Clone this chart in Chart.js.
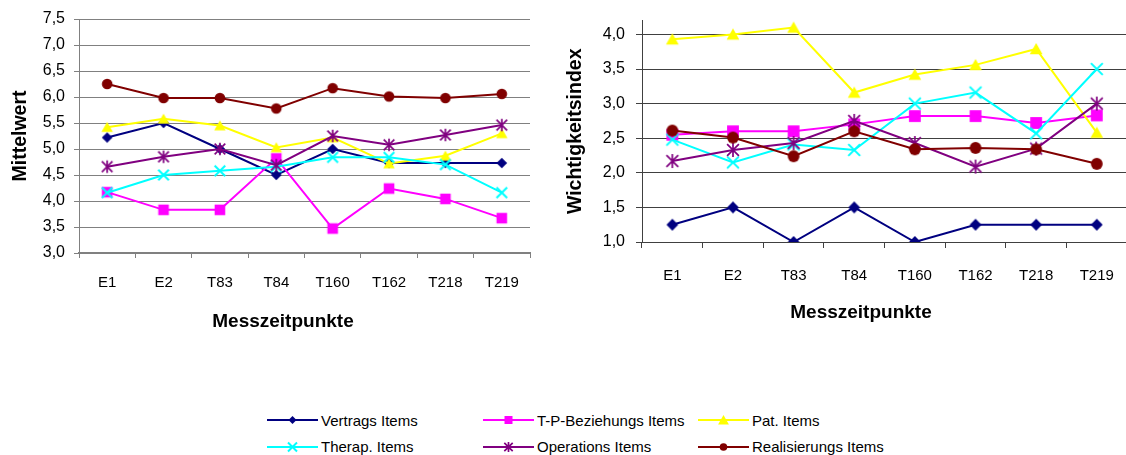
<!DOCTYPE html>
<html>
<head>
<meta charset="utf-8">
<script src="https://cdn.jsdelivr.net/npm/chart.js@4.4.1/dist/chart.umd.min.js"></script>
<style>
  html, body { margin: 0; padding: 0; background: #fff; }
  body { width: 1126px; height: 455px; overflow: hidden; position: relative;
         font-family: "Liberation Sans", Arial, sans-serif; color: #000; }
  canvas.chart { position: absolute; top: 0; }
  #cMittel { left: 0; }
  #cWicht { left: 555px; }
  .xtitle { position: absolute; width: 300px; text-align: center; font-weight: bold;
            font-size: 19px; line-height: 20px; }
  .leg { position: absolute; height: 16px; display: flex; align-items: center; }
  .leg canvas { display: block; }
  .leg span { font-size: 15px; margin-left: 3px; white-space: nowrap; }
</style>
</head>
<body>
<canvas id="cMittel" class="chart" width="540" height="345"></canvas>
<canvas id="cWicht" class="chart" width="580" height="340"></canvas>
<div class="xtitle" style="left:133px; top:311px;">Messzeitpunkte</div>
<div class="xtitle" style="left:711px; top:302px;">Messzeitpunkte</div>
<div id="legend"></div>

<script>
// Measurement points on the x axis
const categories = ['E1', 'E2', 'T83', 'T84', 'T160', 'T162', 'T218', 'T219'];

// Item groups
const seriesNames = ['Vertrags Items', 'T-P-Beziehungs Items', 'Pat. Items',
                     'Therap. Items', 'Operations Items', 'Realisierungs Items'];
const seriesColors = ['#000080', '#FF00FF', '#FFFF00', '#00FFFF', '#800080', '#800000'];
const seriesMarkers = ['diamond', 'square', 'triangle', 'cross', 'asterisk', 'circle'];

// Mean values (Mittelwert)
const vertragsMittel      = [5.22, 5.50, 5.00, 4.50, 5.00, 4.73, 4.73, 4.73];
const beziehungMittel     = [4.17, 3.83, 3.83, 4.82, 3.47, 4.24, 4.04, 3.67];
const patMittel           = [5.42, 5.58, 5.45, 5.03, 5.22, 4.72, 4.87, 5.30];
const therapMittel        = [4.16, 4.50, 4.58, 4.66, 4.84, 4.84, 4.70, 4.16];
const operationsMittel    = [4.66, 4.85, 5.00, 4.69, 5.25, 5.08, 5.27, 5.46];
const realisierungMittel  = [6.25, 5.98, 5.98, 5.78, 6.17, 6.01, 5.98, 6.06];

// Importance index (Wichtigkeitsindex)
const vertragsWicht       = [1.25, 1.50, 1.00, 1.50, 1.00, 1.25, 1.25, 1.25];
const beziehungWicht      = [2.55, 2.60, 2.60, 2.70, 2.82, 2.82, 2.72, 2.83];
const patWicht            = [3.93, 4.00, 4.10, 3.16, 3.42, 3.56, 3.79, 2.58];
const therapWicht         = [2.48, 2.15, 2.41, 2.33, 3.00, 3.16, 2.57, 3.50];
const operationsWicht     = [2.17, 2.33, 2.43, 2.75, 2.43, 2.09, 2.35, 3.00];
const realisierungWicht   = [2.61, 2.51, 2.24, 2.60, 2.34, 2.36, 2.34, 2.13];

const mittelSeries = [vertragsMittel, beziehungMittel, patMittel, therapMittel, operationsMittel, realisierungMittel];
const wichtSeries  = [vertragsWicht, beziehungWicht, patWicht, therapWicht, operationsWicht, realisierungWicht];

// Draws one marker shape centred on (x, y)
function drawMarker(ctx, kind, x, y, r, color) {
  ctx.save();
  ctx.fillStyle = color;
  ctx.strokeStyle = color;
  ctx.lineCap = 'butt';
  ctx.beginPath();
  switch (kind) {
    case 'diamond':
      ctx.moveTo(x, y - r); ctx.lineTo(x + r, y); ctx.lineTo(x, y + r); ctx.lineTo(x - r, y);
      ctx.closePath(); ctx.fill(); break;
    case 'square':
      ctx.rect(x - r, y - r, 2 * r, 2 * r); ctx.fill(); break;
    case 'triangle':
      ctx.moveTo(x, y - r); ctx.lineTo(x + r * 1.08, y + r * 0.9); ctx.lineTo(x - r * 1.08, y + r * 0.9);
      ctx.closePath(); ctx.fill(); break;
    case 'cross':
      ctx.lineWidth = 2;
      ctx.moveTo(x - r, y - r); ctx.lineTo(x + r, y + r);
      ctx.moveTo(x + r, y - r); ctx.lineTo(x - r, y + r);
      ctx.stroke(); break;
    case 'asterisk':
      ctx.lineWidth = 1.7;
      ctx.moveTo(x - r, y - r); ctx.lineTo(x + r, y + r);
      ctx.moveTo(x + r, y - r); ctx.lineTo(x - r, y + r);
      ctx.moveTo(x, y - r * 1.2); ctx.lineTo(x, y + r * 1.2);
      ctx.stroke(); break;
    case 'circle':
      ctx.arc(x, y, r, 0, Math.PI * 2); ctx.fill(); break;
  }
  ctx.restore();
}

// Marker bitmap used as a Chart.js pointStyle
function markerImage(kind, r, color) {
  const size = 2 * Math.ceil(r * 1.2 + 2);
  const c = document.createElement('canvas');
  c.width = size; c.height = size;
  drawMarker(c.getContext('2d'), kind, size / 2, size / 2, r, color);
  return c;
}

const commaTick = v => v.toFixed(1).replace('.', ',');
const FONT = '"Liberation Sans", Arial, sans-serif';

function buildDatasets(seriesData, r) {
  return seriesData.map((data, i) => ({
    label: seriesNames[i],
    data: data,
    borderColor: seriesColors[i],
    backgroundColor: seriesColors[i],
    borderWidth: 2,
    tension: 0,
    pointStyle: markerImage(seriesMarkers[i], r, seriesColors[i]),
    pointRadius: r,
    order: seriesData.length - 1 - i
  }));
}

function makeChart(id, seriesData, opt) {
  return new Chart(document.getElementById(id), {
    type: 'line',
    data: { labels: categories, datasets: buildDatasets(seriesData, opt.markerR) },
    options: {
      responsive: false,
      animation: false,
      devicePixelRatio: 1,
      events: [],
      layout: { padding: { top: opt.padTop, right: opt.padRight, left: 0, bottom: 0 } },
      plugins: { legend: { display: false }, tooltip: { enabled: false } },
      scales: {
        x: {
          offset: true,
          grid: { offset: true, drawOnChartArea: false, drawTicks: true, tickLength: opt.tickLen,
                  color: opt.axisColor, lineWidth: 1 },
          border: { display: true, color: opt.axisColor, width: opt.xAxisWidth },
          ticks: { color: '#000', font: { family: FONT, size: 15 },
                   padding: opt.xPad, maxRotation: 0, autoSkip: false },
          afterFit: s => { s.height = opt.xHeight; }
        },
        y: {
          min: opt.min, max: opt.max,
          grid: { color: opt.gridColor, lineWidth: 1, drawTicks: true, tickLength: opt.tickLen },
          border: { display: true, color: opt.axisColor, width: 1 },
          ticks: { stepSize: 0.5, includeBounds: false, color: '#000', padding: opt.yPad,
                   font: { family: FONT, size: 16 },
                   callback: commaTick },
          title: { display: true, text: opt.yTitle, color: '#000',
                   font: { family: FONT, size: 19.5, weight: 'bold' },
                   padding: { top: opt.yTitlePad, bottom: 0 } },
          afterFit: s => { s.width = opt.yWidth; }
        }
      }
    }
  });
}

makeChart('cMittel', mittelSeries, {
  markerR: 5.3, padTop: 19, padRight: 10, min: 3, max: 7.5,
  yWidth: 79, xHeight: 92, tickLen: 5, xPad: 15.5, yPad: 9, yTitlePad: 8.5,
  gridColor: '#808080', axisColor: '#808080', xAxisWidth: 2, yTitle: 'Mittelwert'
});

makeChart('cWicht', wichtSeries, {
  markerR: 5.9, padTop: 13.7, padRight: 3, min: 1, max: 4.2,
  yWidth: 87, xHeight: 98, tickLen: 6, xPad: 18.5, yPad: 11, yTitlePad: 9,
  gridColor: '#404040', axisColor: '#404040', xAxisWidth: 1, yTitle: 'Wichtigkeitsindex'
});

// Shared legend: three columns, two rows
const legendCols = [267, 483, 698];
const legendRows = [420, 446.5];
const legendR = [4, 4, 5, 4.5, 4.2, 3.8];
const legendBox = document.getElementById('legend');
seriesNames.forEach((name, i) => {
  const item = document.createElement('div');
  item.className = 'leg';
  item.style.left = legendCols[i % 3] + 'px';
  item.style.top = (legendRows[Math.floor(i / 3)] - 8) + 'px';
  const c = document.createElement('canvas');
  c.width = 51; c.height = 16;
  const ctx = c.getContext('2d');
  ctx.strokeStyle = seriesColors[i];
  ctx.lineWidth = 2;
  ctx.beginPath(); ctx.moveTo(0, 8); ctx.lineTo(51, 8); ctx.stroke();
  drawMarker(ctx, seriesMarkers[i], 25.5, 8, legendR[i], seriesColors[i]);
  const label = document.createElement('span');
  label.textContent = name;
  item.appendChild(c);
  item.appendChild(label);
  legendBox.appendChild(item);
});
</script>
</body>
</html>
